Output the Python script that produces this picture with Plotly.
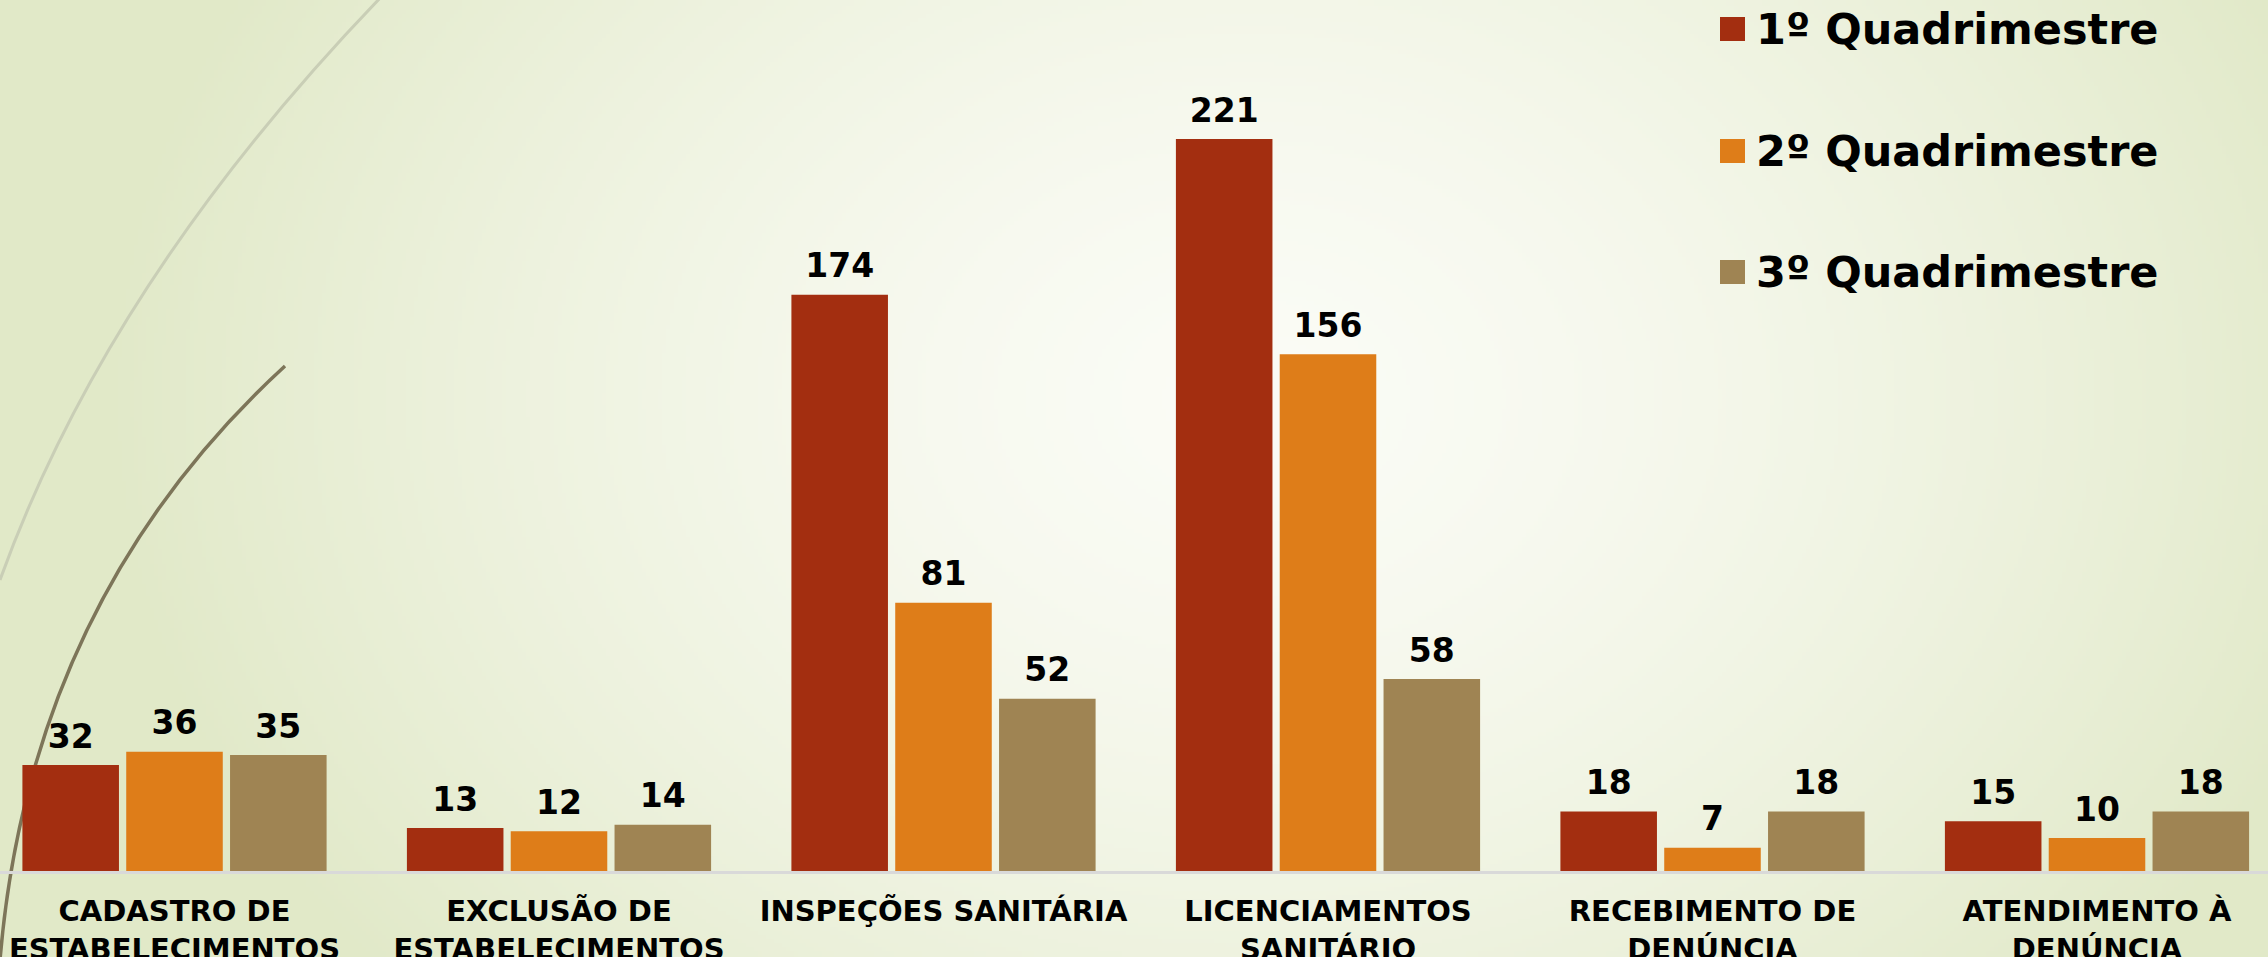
import base64
import struct
import zlib

import numpy as np
import plotly.graph_objects as go

# Dados do gráfico (quadrimestres)
categorias = [
    "CADASTRO DE<br>ESTABELECIMENTOS",
    "EXCLUSÃO DE<br>ESTABELECIMENTOS",
    "INSPEÇÕES SANITÁRIA",
    "LICENCIAMENTOS<br>SANITÁRIO",
    "RECEBIMENTO DE<br>DENÚNCIA",
    "ATENDIMENTO À<br>DENÚNCIA",
]
series = ["1º Quadrimestre", "2º Quadrimestre", "3º Quadrimestre"]
q1 = [32, 13, 174, 221, 18, 15]
q2 = [36, 12, 81, 156, 7, 10]
q3 = [35, 14, 52, 58, 18, 18]

cores = ["#a32e10", "#de7d19", "#9f8453"]
valores = [q1, q2, q3]

W, H = 2268, 957
BASE = 871  # linha de base do gráfico em pixels


def px_x(px):
    return px / W


def px_y(py):
    return (BASE - py) / BASE


# Fundo em degradê radial (PNG gerado com numpy)
def fundo_png():
    w, h = W // 4, H // 4 + 1
    xs = (np.arange(w) + 0.5) * 4
    ys = (np.arange(h) + 0.5) * 4
    X, Y = np.meshgrid(xs, ys)
    d = np.sqrt(((X - 1250) / 1150) ** 2 + ((Y - 400) / 900) ** 2)
    t = np.clip(d, 0, 1) ** 1.5
    centro = np.array([251, 252, 246], dtype=float)
    borda = np.array([225, 233, 200], dtype=float)
    img = (centro[None, None, :] * (1 - t[..., None]) + borda[None, None, :] * t[..., None]).astype(np.uint8)
    raw = b"".join(b"\x00" + row.tobytes() for row in img)

    def chunk(tag, data):
        c = struct.pack(">I", len(data)) + tag + data
        return c + struct.pack(">I", zlib.crc32(tag + data) & 0xFFFFFFFF)

    png = b"\x89PNG\r\n\x1a\n"
    png += chunk(b"IHDR", struct.pack(">IIBBBBB", w, h, 8, 2, 0, 0, 0))
    png += chunk(b"IDAT", zlib.compress(raw, 9))
    png += chunk(b"IEND", b"")
    return "data:image/png;base64," + base64.b64encode(png).decode()


fig = go.Figure()

for nome, vals, cor in zip(series, valores, cores):
    fig.add_trace(go.Bar(
        x=categorias,
        y=vals,
        name=nome,
        marker=dict(color=cor, line=dict(width=0)),
        showlegend=False,
        hoverinfo="skip",
    ))

# Rótulos de valores acima das barras
for nome, vals in zip(series, valores):
    fig.add_trace(go.Scatter(
        x=categorias,
        y=vals,
        mode="markers+text",
        text=[str(v) for v in vals],
        textposition="top center",
        textfont=dict(family="Verdana, DejaVu Sans", size=33, color="black", weight="bold"),
        marker=dict(size=13, opacity=0),
        showlegend=False,
        hoverinfo="skip",
        cliponaxis=False,
    ))

# Arcos decorativos à esquerda
shapes = [
    dict(type="path", xref="paper", yref="paper", layer="below",
         path=f"M {px_x(383)},{px_y(-5)} Q {px_x(108)},{px_y(280)} {px_x(0)},{px_y(580)}",
         line=dict(color="#c9ceb6", width=3)),
    dict(type="path", xref="paper", yref="paper", layer="below",
         path=f"M {px_x(285)},{px_y(366)} Q {px_x(30)},{px_y(600)} {px_x(0)},{px_y(960)}",
         line=dict(color="#7d7559", width=3.5)),
]

# Legenda manual (quadrados grandes)
annotations = []
leg_y = [29, 151, 272]
for nome, cor, yc in zip(series, cores, leg_y):
    shapes.append(dict(type="rect", xref="paper", yref="paper",
                       x0=px_x(1720), x1=px_x(1745), y0=px_y(yc - 12), y1=px_y(yc + 12),
                       fillcolor=cor, line=dict(width=0)))
    annotations.append(dict(xref="paper", yref="paper", x=px_x(1754), y=px_y(yc),
                            xanchor="left", yanchor="middle", showarrow=False, text=nome,
                            font=dict(family="Verdana, DejaVu Sans", size=43, color="black", weight="bold")))

fig.update_layout(
    template="none",
    width=W,
    height=H,
    margin=dict(l=0, r=0, t=0, b=H - BASE, pad=0),
    paper_bgcolor="#e2e9cb",
    plot_bgcolor="rgba(0,0,0,0)",
    barmode="group",
    bargap=0.19,
    bargroupgap=0.07,
    scattermode="group",
    scattergap=0.19,
    showlegend=False,
    shapes=shapes,
    annotations=annotations,
    images=[dict(source=fundo_png(), xref="paper", yref="paper", x=0, y=1,
                 sizex=1, sizey=H / BASE, xanchor="left", yanchor="top",
                 sizing="stretch", layer="below")],
)
fig.update_xaxes(
    range=[-174.5 / 384.5, 5 + (W - 2097) / 384.5],
    showline=True, linecolor="#d9d9d9", linewidth=3,
    showgrid=False, zeroline=False,
    ticks="outside", ticklen=12, tickcolor="rgba(0,0,0,0)",
    tickfont=dict(family="Verdana, DejaVu Sans", size=29, color="black", weight="bold"),
    automargin=False,
)
fig.update_yaxes(range=[0, 263], visible=False, showgrid=False, zeroline=False)

fig.write_html("out.html", config={"displayModeBar": False},
               post_script="document.body.style.margin='0';")
